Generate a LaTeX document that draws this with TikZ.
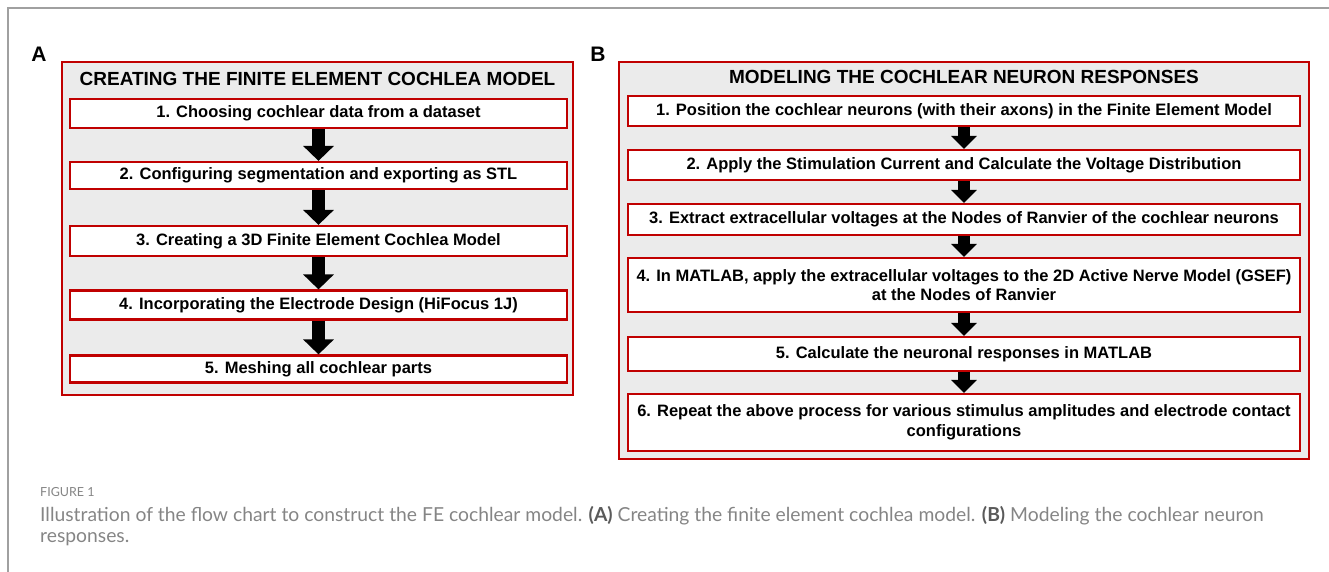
\documentclass[tikz,border=0pt]{standalone}
\usepackage{fontspec}
\setmainfont{Liberation Sans}
\newfontfamily\capfont{Lato}
\usetikzlibrary{arrows.meta}
\definecolor{fred}{HTML}{C00000}
\definecolor{pgray}{HTML}{EBEBEB}
\definecolor{framegray}{HTML}{A0A0A0}
\definecolor{capgray}{HTML}{858585}
\definecolor{capdark}{HTML}{5A5A5A}
\begin{document}
\begin{tikzpicture}[x=1pt,y=1pt,
  panel/.style={draw=fred,line width=2pt,fill=pgray,inner sep=0pt},
  stepbox/.style={draw=fred,line width=2.2pt,fill=white,inner sep=0pt,align=center,
    font=\bfseries\fontsize{16.5}{19}\selectfont},
  stepboxB/.style={stepbox,font=\bfseries\fontsize{16.5}{19.5}\selectfont},
  titletext/.style={inner sep=0pt,font=\bfseries\fontsize{19}{22}\selectfont},
  panellabel/.style={inner sep=0pt,font=\bfseries\fontsize{21}{24}\selectfont},
  fatarrow/.style={line width=13pt,-{Triangle[width=30pt,length=15pt]},black},
  fatarrowB/.style={line width=12pt,-{Triangle[width=25pt,length=13pt]},black},
  captext/.style={inner sep=0pt,anchor=west,text=capgray,font=\capfont\fontsize{19.3}{23}\selectfont}
]
\useasboundingbox (0,0) rectangle (1329,-572);
% outer frame
\draw[framegray,line width=2pt] (7.5,-572) -- (7.5,-8) -- (1329,-8);

% ---------- Panel A ----------
\node[panellabel] (labA) at (39,-54) {A};
\node[panel,minimum width=511pt,minimum height=333pt] (panA) at (317.5,-228.5) {};
\node[titletext] (titA) at (317.5,-79) {CREATING THE FINITE ELEMENT COCHLEA MODEL};
\node[stepbox,minimum width=497pt,minimum height=29pt] (a1) at (318.5,-113.5) {1. Choosing cochlear data from a dataset};
\node[stepbox,minimum width=497pt,minimum height=27pt] (a2) at (318.5,-175.5) {2. Configuring segmentation and exporting as STL};
\node[stepbox,minimum width=497pt,minimum height=30pt] (a3) at (318.5,-241) {3. Creating a 3D Finite Element Cochlea Model};
\node[stepbox,minimum width=497pt,minimum height=29pt] (a4) at (318.5,-305) {4. Incorporating the Electrode Design (HiFocus 1J)};
\node[stepbox,minimum width=497pt,minimum height=27pt] (a5) at (318.5,-369) {5. Meshing all cochlear parts};
\draw[fatarrow] (a1.south) -- (a2.north);
\draw[fatarrow] (a2.south) -- (a3.north);
\draw[fatarrow] (a3.south) -- (a4.north);
\draw[fatarrow] (a4.south) -- (a5.north);

% ---------- Panel B ----------
\node[panellabel] (labB) at (598,-54) {B};
\node[panel,minimum width=690pt,minimum height=397pt] (panB) at (964,-260.5) {};
\node[titletext] (titB) at (964,-77) {MODELING THE COCHLEAR NEURON RESPONSES};
\node[stepboxB,minimum width=672pt,minimum height=30pt] (b1) at (964,-111) {1. Position the cochlear neurons (with their axons) in the Finite Element Model};
\node[stepboxB,minimum width=672pt,minimum height=30pt] (b2) at (964,-165) {2. Apply the Stimulation Current and Calculate the Voltage Distribution};
\node[stepboxB,minimum width=672pt,minimum height=31pt] (b3) at (964,-219.5) {3. Extract extracellular voltages at the Nodes of Ranvier of the cochlear neurons};
\node[stepboxB,minimum width=672pt,minimum height=54pt] (b4) at (964,-285) {4. In MATLAB, apply the extracellular voltages to the 2D Active Nerve Model (GSEF)\\at the Nodes of Ranvier};
\node[stepboxB,minimum width=672pt,minimum height=34pt] (b5) at (964,-354) {5. Calculate the neuronal responses in MATLAB};
\node[stepboxB,minimum width=672pt,minimum height=57pt] (b6) at (964,-422.5) {6. Repeat the above process for various stimulus amplitudes and electrode contact\\configurations};
\draw[fatarrowB] (b1.south) -- (b2.north);
\draw[fatarrowB] (b2.south) -- (b3.north);
\draw[fatarrowB] (b3.south) -- (b4.north);
\draw[fatarrowB] (b4.south) -- (b5.north);
\draw[fatarrowB] (b5.south) -- (b6.north);

% ---------- Caption ----------
\node[captext,font=\capfont\fontsize{12.5}{15}\selectfont] (fig) at (40,-492) {FIGURE 1};
\node[captext] (cap1) at (40,-516) {Illustration of the flow chart to construct the FE cochlear model. {\bfseries\color{capdark}(A)} Creating the finite element cochlea model. {\bfseries\color{capdark}(B)} Modeling the cochlear neuron};
\node[captext] (cap2) at (40,-539) {responses.};
\end{tikzpicture}
\end{document}
